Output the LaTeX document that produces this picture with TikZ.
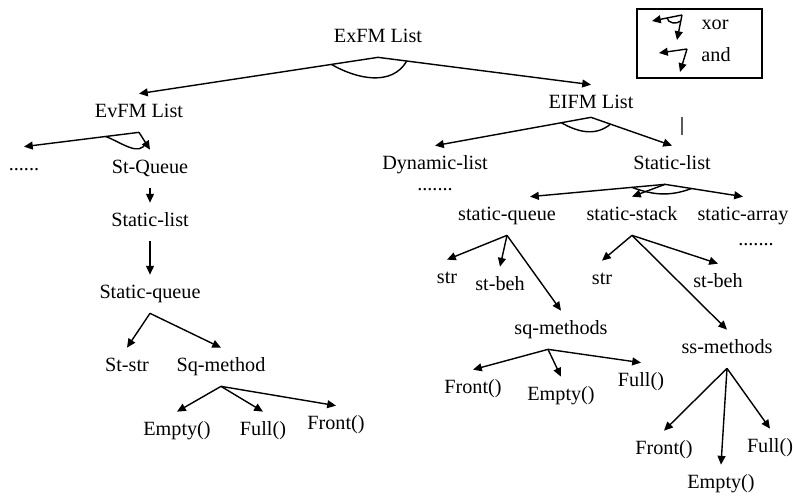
\documentclass[tikz,border=0pt]{standalone}
\usepackage{fontspec}
\setmainfont{Liberation Serif}
\usetikzlibrary{arrows.meta, positioning, calc}

\begin{document}
\begin{tikzpicture}[
    on grid,
    item/.style={
      inner sep=0pt, minimum height=0.76cm,
      text height=8pt, text depth=2.5pt,
      font=\fontsize{11.5}{13}\selectfont
    },
    sub/.style={-{Triangle[length=5pt,width=4.5pt]}, line width=0.8pt},
    xorarc/.style={line width=0.8pt},
    legendbox/.style={
      rectangle, draw, line width=1.3pt,
      minimum width=2.5cm, minimum height=1.38cm, inner sep=0pt
    },
  ]

  \useasboundingbox (0,0) rectangle (15.86,-9.94);

  \node[item] (exfm) at (7.56,-0.76) {ExFM List};
  \node[item, below left=1.5cm and 4.78cm of exfm] (evfm) {EvFM List};
  \node[item, below right=1.32cm and 4.26cm of exfm] (eifm) {EIFM List};

  \node[item, below left=1.06cm and 2.3cm of evfm] (evdots) {......};
  \node[item, below right=1.12cm and 0.22cm of evfm] (stqueue) {St-Queue};
  \node[item, below=1.06cm of stqueue] (lslist) {Static-list};
  \node[item, below=1.44cm of lslist] (lsqueue) {Static-queue};
  \node[item, below left=1.46cm and 0.46cm of lsqueue] (ststr) {St-str};
  \node[item, below right=1.46cm and 1.42cm of lsqueue] (sqmethod) {Sq-method};
  \node[item, below left=1.28cm and 0.88cm of sqmethod] (lempty) {Empty()};
  \node[item, below right=1.28cm and 0.84cm of sqmethod] (lfull) {Full()};
  \node[item, below right=1.16cm and 2.3cm of sqmethod] (lfront) {Front()};

  \node[item, below left=1.22cm and 3.12cm of eifm] (dynlist) {Dynamic-list};
  \node[item, below=0.42cm of dynlist] (dyndots) {.......};
  \node[item, below right=1.22cm and 1.62cm of eifm] (rslist) {Static-list};
  \node[item, below left=1.02cm and 3.3cm of rslist] (squeue) {static-queue};
  \node[item, below left=1.02cm and 0.8cm of rslist] (sstack) {static-stack};
  \node[item, below right=1.02cm and 1.42cm of rslist] (sarray) {static-array};
  \node[item, below right=0.5cm and 0.26cm of sarray] (ardots) {.......};

  \node[item, below left=1.26cm and 1.2cm of squeue] (qstr) {str};
  \node[item, below left=1.4cm and 0.14cm of squeue] (qbeh) {st-beh};
  \node[item, below right=2.28cm and 1.08cm of squeue] (sqmeth) {sq-methods};
  \node[item, below left=1.18cm and 1.76cm of sqmeth] (qfront) {Front()};
  \node[item, below=1.32cm of sqmeth] (qempty) {Empty()};
  \node[item, below right=1.04cm and 1.6cm of sqmeth] (qfull) {Full()};

  \node[item, below left=1.28cm and 0.6cm of sstack] (kstr) {str};
  \node[item, below right=1.34cm and 1.72cm of sstack] (kbeh) {st-beh};
  \node[item, below right=2.66cm and 1.9cm of sstack] (ssmeth) {ss-methods};
  \node[item, below left=2.02cm and 1.26cm of ssmeth] (kfront) {Front()};
  \node[item, below left=2.7cm and 0.12cm of ssmeth] (kempty) {Empty()};
  \node[item, below right=1.98cm and 0.86cm of ssmeth] (kfull) {Full()};

  \node[legendbox, below right=0.11cm and 6.43cm of exfm] (legend) {};
  \node[item, above right=0.37cm and 0.31cm of legend] (xorlbl) {xor};
  \node[item, below right=0.27cm and 0.33cm of legend] (andlbl) {and};

  \draw[sub] (exfm.south) -- (evfm.north);
  \draw[sub] (exfm.south) -- (eifm.north);
  \draw[xorarc] ($(exfm.south)!0.195!(evfm.north)$) to[out=-30,in=-120] ($(exfm.south)!0.135!(eifm.north)$);

  \draw[sub] (evfm.south) -- (evdots.north);
  \draw[sub] (evfm.south) -- (stqueue.north);
  \draw[xorarc] ($(evfm.south)!0.29!(evdots.north)$) to[out=-20,in=-110] ($(evfm.south)!0.6!(stqueue.north)$);
  \draw[sub] (stqueue.south) -- (lslist.north);
  \draw[sub] (lslist.south) -- (lsqueue.north);
  \draw[sub] (lsqueue.south) -- (ststr.north);
  \draw[sub] (lsqueue.south) -- (sqmethod.north);
  \draw[sub] (sqmethod.south) -- (lempty.north);
  \draw[sub] (sqmethod.south) -- (lfull.north);
  \draw[sub] (sqmethod.south) -- (lfront.north);

  \coordinate (eiapex) at ([yshift=0.12cm]eifm.south);
  \draw[sub] (eiapex) -- (dynlist.north);
  \draw[sub] (eiapex) -- (rslist.north);
  \draw[xorarc] ($(eiapex)!0.19!(dynlist.north)$) to[out=-30,in=-140] ($(eiapex)!0.24!(rslist.north)$);
  \draw[line width=0.6pt, gray!70!black] ([shift={(0.2,0.96)}]rslist.center) -- ++(0,-0.36);

  \coordinate (rsapex) at ([xshift=-0.14cm]rslist.south);
  \coordinate (sqtip) at ([xshift=0.46cm]squeue.north);
  \draw[sub] (rsapex) -- (sqtip);
  \draw[sub] (rsapex) -- (sstack.north);
  \draw[sub] (rsapex) -- (sarray.north);
  \draw[xorarc] ($(rsapex)!0.245!(sqtip)$) to[out=-20,in=-160] ($(rsapex)!0.34!(sarray.north)$);

  \draw[sub] (squeue.south) -- (qstr.north);
  \draw[sub] (squeue.south) -- (qbeh.north);
  \draw[sub] (squeue.south) -- (sqmeth.north);
  \coordinate (sqapex) at ([xshift=-0.26cm]sqmeth.south);
  \draw[sub] (sqapex) -- (qfront.north);
  \draw[sub] (sqapex) -- (qempty.north);
  \draw[sub] (sqapex) -- (qfull.north);

  \draw[sub] (sstack.south) -- (kstr.north);
  \draw[sub] (sstack.south) -- (kbeh.north);
  \draw[sub] (sstack.south) -- (ssmeth.north);
  \draw[sub] (ssmeth.south) -- (kfront.north);
  \draw[sub] (ssmeth.south) -- (kempty.north);
  \draw[sub] (ssmeth.south) -- (kfull.north);

  \coordinate (xorapex) at ($(xorlbl)+(-0.66,0.2)$);
  \coordinate (xorleft) at ($(xorlbl)+(-1.26,0.08)$);
  \coordinate (xordown) at ($(xorlbl)+(-0.76,-0.3)$);
  \draw[sub] (xorapex) -- (xorleft);
  \draw[sub] (xorapex) -- (xordown);
  \draw[xorarc] ($(xorapex)!0.5!(xorleft)$) to[out=-80,in=-140] ($(xorapex)!0.24!(xordown)$);

  \coordinate (andapex) at ($(andlbl)+(-0.58,0.16)$);
  \coordinate (andleft) at ($(andlbl)+(-1.14,0.08)$);
  \coordinate (anddown) at ($(andlbl)+(-0.72,-0.3)$);
  \draw[sub] (andapex) -- (andleft);
  \draw[sub] (andapex) -- (anddown);
\end{tikzpicture}
\end{document}
